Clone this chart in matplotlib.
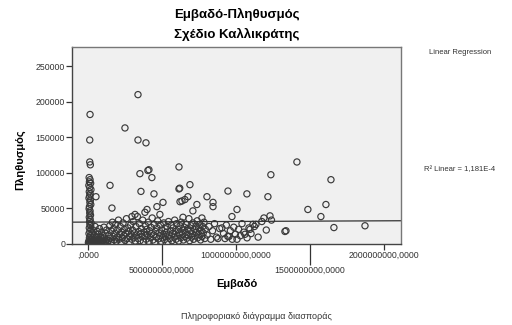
import numpy as np
import matplotlib
matplotlib.use("Agg")
import matplotlib.pyplot as plt

plt.rcParams['font.family'] = ['Liberation Sans', 'DejaVu Sans']

# Εμβαδό (σε εκατομμύρια) και Πληθυσμός (σε χιλιάδες), εκτίμηση από το γράφημα
# απομονωμένα σημεία
area_top = [14, 12, 338, 250, 338, 392, 12, 16, 412, 615, 149, 351, 405, 432, 358,
            446, 615, 620, 689, 162, 507, 466, 622, 655, 675, 736, 804, 845, 845,
            709, 946, 1074, 973, 1007, 399, 385, 318, 297, 1236, 1216, 635, 642,
            770, 486, 1230, 1189, 1331, 1115, 1135, 1095, 1412, 1642, 1608, 1486,
            1574, 1338, 1662, 1872, 54]
pop_top = [182, 146, 210, 163, 146, 142, 115, 111, 104, 108, 82, 98.5, 103, 93, 73.5,
           70, 77, 78, 83, 50, 58, 52, 59, 62, 66, 55, 66, 58, 52,
           46, 74, 70, 38, 48, 48, 44, 41, 38, 97, 66, 60, 37,
           36, 41, 39, 36, 17, 27, 27, 20, 115, 90, 55, 48,
           38, 18, 22.5, 25, 66]

# στήλη κοντά στο μηδέν
area_col = [8, 14, 10, 18, 6, 12, 20, 9, 15, 11, 7, 16, 13, 19, 10, 8, 14, 12, 17,
            9, 15, 11, 21, 13, 18]
pop_col = [93, 90, 87, 85, 82, 79, 76, 73, 70, 67, 64, 61, 58, 55, 52, 49, 46, 43,
           40, 37, 34, 31, 29, 27, 25]

# πυκνή ομάδα χαμηλά
area_low = [3, 6, 9, 11, 15, 19, 22, 25, 29, 32, 36, 39, 43, 47, 51, 55, 58, 62, 66,
            71, 75, 80, 84, 89, 94, 99, 104, 110, 115, 121, 127, 133,
            10, 16, 7, 13, 20, 9, 24, 28, 35, 42, 48, 57, 63, 70, 78, 86, 92, 101,
            108, 117, 126,
            138, 142, 147, 151, 156, 160, 165, 169, 174, 178, 183, 188, 192, 197,
            201, 206, 210, 215, 219, 224, 228, 233, 237, 242, 246, 251, 256, 260,
            265, 270, 274, 279, 283, 288, 292, 297, 301, 306, 311, 315, 320, 324,
            329, 334, 338, 343, 347, 352, 357, 361, 366, 370, 375, 380, 384, 389,
            393, 398, 402, 407, 411, 416, 421, 425, 430, 434, 439, 444, 448, 453,
            457, 462, 466, 471, 476, 480, 485, 489, 494, 498, 503, 508, 512, 517,
            521, 526, 530, 535, 540, 544, 549, 553, 558, 563, 567, 572, 576, 581,
            586, 590, 595, 599, 604, 609, 613, 618, 622, 627, 631, 636, 641, 645,
            650, 654, 659, 664, 668, 673, 677, 682, 687, 691, 696, 700, 705, 710,
            714, 719, 724, 728, 733, 738, 742, 747, 751, 756, 761, 765, 770, 775,
            779, 784, 789, 793,
            805, 818, 830, 842, 855, 868, 878, 890, 905, 916, 926, 935, 945, 953,
            962, 975, 985, 996, 1007, 1018, 1030, 1041, 1053, 1061, 1075, 1088,
            1102, 1125, 1150, 1175, 1205, 1240]
pop_low = [1.2, 3.5, 0.4, 2.2, 4.8, 0.9, 3.1, 1.7, 5.6, 0.6, 2.8, 4.2, 1.1, 3.7, 0.5,
           2.4, 6.3, 1.5, 3.9, 0.8, 2.6, 5.1, 1.3, 3.4, 0.7, 4.6, 2, 7.5, 1.0, 3.2,
           5.4, 0.9,
           8, 11, 14, 17, 20, 22, 9, 15, 19, 12, 24, 9.5, 17, 13, 21, 8.5, 16, 11,
           23, 14.5, 19,
           4, 12, 25, 7.5, 18, 2.5, 30, 10, 21, 5, 14.5, 27, 3, 9,
           19, 33, 6, 13, 24, 1.5, 16, 8, 29, 11, 20, 4.5, 14, 35,
           7, 22, 17, 2, 10, 26, 13, 6, 19, 31, 9, 15, 3.5, 24,
           12, 38, 7, 17, 28, 4, 14, 21, 9.5, 33, 2.5, 16, 11, 25,
           6, 20, 13, 30, 3, 18, 8.5, 23, 14, 36, 5, 12, 27, 1.8,
           17, 9, 22, 32, 6.5, 15, 11, 26, 3, 19, 8, 13, 29, 5.5,
           21, 10, 16, 24, 2.2, 31, 12, 7, 18, 26, 4, 14, 22, 9,
           33, 17, 6, 28, 11, 20, 3.5, 15, 25, 8, 30, 13, 19, 5,
           23, 10, 16, 27, 7.5, 21, 12, 35, 4, 18, 25, 9, 14, 29,
           6, 20, 11, 24, 16, 32, 8, 22, 13, 27, 5, 18, 10, 24,
           15, 30, 7, 20,
           12, 24, 6, 18, 28, 9, 7, 21, 22, 14, 7, 26, 10, 10,
           18, 6, 23, 13, 6, 20, 11, 28, 16, 13, 8, 22,
           14, 24, 9, 31, 19, 33]

# γραμμική παλινδρόμηση (σταθερά, κλίση)
fit_intercept = 30200
fit_slope = 9e-7

x_ticks = [0, 1e9, 2e9]
x_tick_labels = [',0000', '1000000000,0000', '2000000000,0000']
x_minor_ticks = [5e8, 1.5e9]
x_minor_labels = ['500000000,0000', '1500000000,0000']
y_ticks = [0, 50000, 100000, 150000, 200000, 250000]

area = np.array(area_top + area_col + area_low) * 1e6
pop = np.array(pop_top + pop_col + pop_low) * 1e3

fig = plt.figure(figsize=(5.12, 3.25), dpi=100)
ax = fig.add_axes([0.1406, 0.249, 0.6425, 0.606])
ax.set_facecolor('#f0f0f0')

ax.scatter(area, pop, s=20, facecolors='none', edgecolors='#3a3a3a', linewidths=0.85)

xlim = (-108e6, 2115e6)
ax.set_xlim(xlim)
ax.set_ylim(-800, 277000)
xs = np.array(xlim)
ax.plot(xs, fit_intercept + fit_slope * xs, color='#333333', lw=0.9)

ax.set_xticks(x_ticks)
ax.set_xticklabels(x_tick_labels)
ax.set_xticks(x_minor_ticks, minor=True)
ax.set_xticklabels(x_minor_labels, minor=True)
ax.set_yticks(y_ticks)
ax.set_yticklabels([str(v) for v in y_ticks])
ax.tick_params(axis='x', which='major', length=4, width=0.9, pad=1,
               labelsize=6.3, colors='#333333')
ax.tick_params(axis='x', which='minor', length=15, width=0.9, pad=1,
               labelsize=6.3, colors='#333333')
ax.tick_params(axis='y', length=4, width=0.9, pad=1, labelsize=6.3, colors='#333333')

for s in ax.spines.values():
    s.set_color('#777777')
    s.set_linewidth(1.0)
ax.spines['left'].set_color('#444444')
ax.spines['bottom'].set_color('#444444')

fig.text(0.463, 0.955, 'Εμβαδό-Πληθυσμός', ha='center', va='center',
         fontsize=9.5, fontweight='bold')
fig.text(0.463, 0.893, 'Σχέδιο Καλλικράτης', ha='center', va='center',
         fontsize=9.5, fontweight='bold')
fig.text(0.04, 0.51, 'Πληθυσμός', rotation=90, ha='center', va='center',
         fontsize=8, fontweight='bold')
fig.text(0.463, 0.125, 'Εμβαδό', ha='center', va='center',
         fontsize=8, fontweight='bold')
fig.text(0.5, 0.025, 'Πληροφοριακό διάγραμμα διασποράς', ha='center', va='center',
         fontsize=6.5, color='#333333')
fig.text(0.898, 0.84, 'Linear Regression', ha='center', va='center',
         fontsize=5.5, color='#333333')
fig.text(0.898, 0.478, 'R² Linear = 1,181E-4', ha='center', va='center',
         fontsize=5.5, color='#333333')

fig.savefig('out.png', dpi=100)
